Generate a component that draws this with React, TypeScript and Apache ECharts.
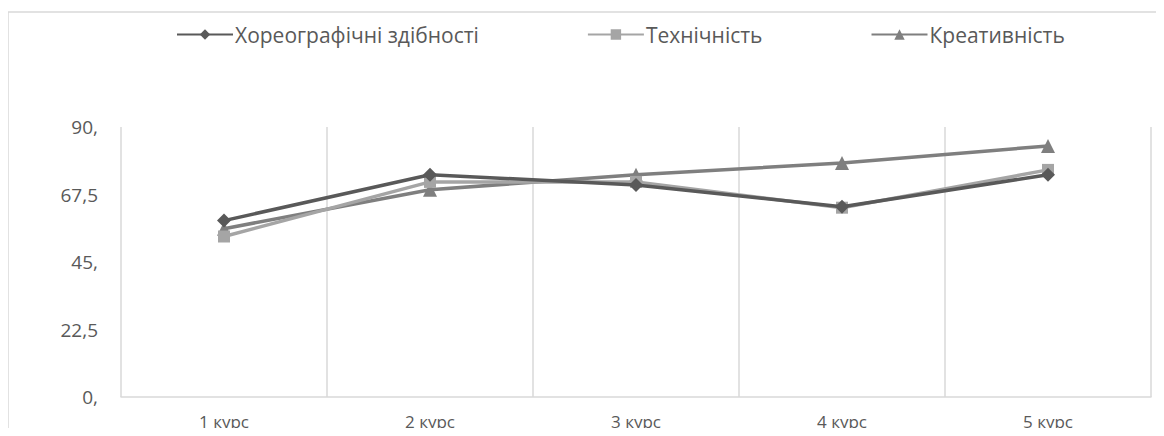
import React, { useEffect, useRef } from "react";
import * as echarts from "echarts";

const categories = ["1 курс", "2 курс", "3 курс", "4 курс", "5 курс"];
const seriesNames = ["Хореографічні здібності", "Технічність", "Креативність"];
const choreo = [58.8, 74.1, 70.7, 63.4, 74.1];
const technique = [53.5, 71.7, 71.7, 63.1, 75.7];
const creativity = [56.1, 69.1, 74.1, 78.0, 83.7];
const yTickLabels: Record<string, string> = {
  "0": "0,",
  "22.5": "22,5",
  "45": "45,",
  "67.5": "67,5",
  "90": "90,",
};

const colors = ["#595959", "#A5A5A5", "#7F7F7F"];
const symbols = ["diamond", "rect", "triangle"];
const font = "'Open Sans', 'Liberation Sans', sans-serif";

export default function App() {
  const ref = useRef<HTMLDivElement>(null);
  useEffect(() => {
    if (!ref.current) return;
    const chart = echarts.init(ref.current, null, { renderer: "svg" });
    const data = [choreo, technique, creativity];
    chart.setOption({
      animation: false,
      backgroundColor: "#ffffff",
      textStyle: { fontFamily: font },
      graphic: [
        {
          type: "rect",
          shape: { x: 8, y: 12, width: 1200, height: 500 },
          style: { fill: "none", stroke: "#D9D9D9", lineWidth: 1.5 },
          silent: true,
        },
      ],
      legend: {
        top: 19,
        left: 171,
        itemGap: 108,
        itemWidth: 56,
        itemHeight: 13,
        textStyle: { fontSize: 21, color: "#595959", fontFamily: font, padding: [0, 0, 0, -3] },
        data: seriesNames,
      },
      grid: { left: 121, right: 13, top: 127, bottom: 39, containLabel: false },
      xAxis: {
        type: "category",
        data: categories,
        boundaryGap: true,
        axisLine: { show: true, lineStyle: { color: "#D9D9D9", width: 1.5 } },
        axisTick: { show: false },
        splitLine: { show: true, lineStyle: { color: "#D9D9D9", width: 1.5 } },
        axisLabel: { fontSize: 17, color: "#595959", margin: 16, fontFamily: font },
      },
      yAxis: {
        type: "value",
        min: 0,
        max: 90,
        interval: 22.5,
        axisLine: { show: false },
        axisTick: { show: false },
        splitLine: { show: false },
        axisLabel: {
          fontSize: 19,
          color: "#595959",
          margin: 23,
          fontFamily: font,
          formatter: (v: number) => yTickLabels[String(v)] ?? String(v),
        },
      },
      series: seriesNames.map((name, i) => ({
        name,
        type: "line",
        data: data[i],
        symbol: symbols[i],
        symbolSize: i === 1 ? 12 : 14,
        showSymbol: true,
        lineStyle: { color: colors[i], width: 3.5 },
        itemStyle: { color: colors[i] },
        z: 3 - i,
      })),
    });
    return () => chart.dispose();
  }, []);
  return <div ref={ref} style={{ width: 1164, height: 436, margin: -8 }} />;
}
